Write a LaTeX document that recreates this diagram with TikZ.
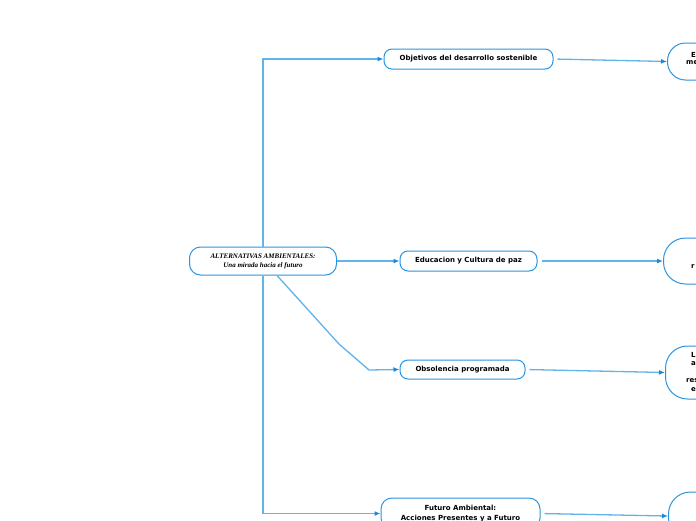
\documentclass[tikz,border=0pt]{standalone}
\usepackage{fontspec}
\setmainfont{DejaVu Sans}
\newfontfamily\rootfont{Liberation Serif}
\usetikzlibrary{arrows.meta}
\definecolor{linec}{HTML}{62B3EA}
\definecolor{borderc}{HTML}{2A95E0}
\definecolor{arrowc}{HTML}{1E88D8}
\begin{document}
\begin{tikzpicture}[x=1pt,y=-1pt,
  box/.style={draw=borderc, line width=1pt, rounded corners=8pt, fill=white,
    font=\bfseries\fontsize{7}{10.5}\selectfont, align=center, inner sep=0pt},
  frag/.style={font=\bfseries\fontsize{7}{9}\selectfont, inner sep=0pt, anchor=west},
  conn/.style={draw=linec, line width=1.3pt, -{Latex[length=6pt,width=5pt,color=arrowc]}},
  connr/.style={conn, shorten <=4pt}
]
\useasboundingbox (0,0) rectangle (696,520);
\clip (0,0) rectangle (696,520);
\fill[white] (0,0) rectangle (696,520);

% root
\node[box, rounded corners=11pt, minimum width=147pt, minimum height=28pt,
  font=\rootfont\bfseries\itshape\fontsize{7}{9}\selectfont] (root) at (263,261)
  {ALTERNATIVAS AMBIENTALES:\\Una mirada hacia el futuro};

% middle column
\node[box, minimum width=169pt, minimum height=20pt] (n1) at (468.5,59) {Objetivos del desarrollo sostenible};
\node[box, minimum width=137pt, minimum height=20pt] (n2) at (468.5,261) {Educacion y Cultura de paz};
\node[box, minimum width=125pt, minimum height=19pt] (n3) at (462.5,369.5) {Obsolencia programada};
\node[box, rounded corners=11pt, minimum width=159pt, minimum height=31pt] (n4) at (460.5,513.5) {Futuro Ambiental:\\Acciones Presentes y a Futuro};

% right column (cut by the picture edge)
\node[box, rounded corners=18pt, anchor=west, minimum width=80pt, minimum height=37pt] (r1) at (667,61.5) {};
\node[box, rounded corners=22pt, anchor=west, minimum width=80pt, minimum height=46pt] (r2) at (663,261) {};
\node[box, rounded corners=22pt, anchor=west, minimum width=80pt, minimum height=53pt] (r3) at (665,372.5) {};
\node[box, rounded corners=22pt, anchor=west, minimum width=80pt, minimum height=48pt] (r4) at (668,516) {};

% visible text fragments
\node[frag] (t1a) at (691,55) {E};
\node[frag] (t1b) at (686,62.5) {me};
\node[frag] (t2a) at (691,267) {r};
\node[frag] (t3a) at (691,355) {L};
\node[frag] (t3b) at (691,364) {a};
\node[frag] (t3c) at (686,381) {res};
\node[frag] (t3d) at (691,390) {e};

% connectors
\coordinate (k0) at ([xshift=14pt]root.south);
\coordinate (k1) at (339,344);
\coordinate (k2) at (369,370);
\draw[conn] (root.north) |- (n1.west);
\draw[conn] (root.east) -- (n2.west);
\draw[conn] (k0) -- (k1) -- (k2) -- (n3.west);
\draw[conn] (root.south) |- (n4.west);

\draw[connr] (n1.east) -- (r1.west);
\draw[connr] (n2.east) -- (r2.west);
\draw[connr] (n3.east) -- (r3.west);
\draw[connr] (n4.east) -- (r4.west);
\end{tikzpicture}
\end{document}
